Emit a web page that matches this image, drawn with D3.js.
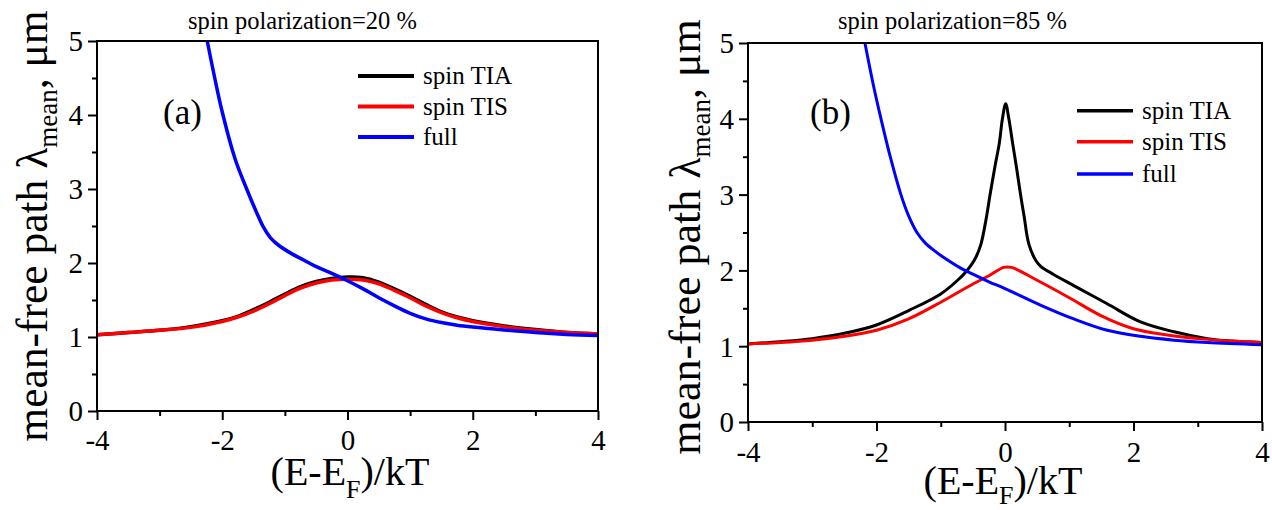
<!DOCTYPE html>
<html>
<head>
<meta charset="utf-8">
<script src="https://cdn.jsdelivr.net/npm/d3@7/dist/d3.min.js"></script>
<style>
  html, body { margin: 0; padding: 0; background: #fff; }
  svg { display: block; }
  svg text { font-family: "Liberation Serif", "Times New Roman", serif !important; fill: #000; }
</style>
</head>
<body>
<script>
// Mean-free path versus reduced energy (E-E_F)/kT, two spin polarizations.
const energyTicks = [-4, -2, 0, 2, 4];
const energyMinor = [-3, -1, 1, 3];
const lambdaTicks = [0, 1, 2, 3, 4, 5];
const lambdaMinor = [0.5, 1.5, 2.5, 3.5, 4.5];
const seriesNames = ["spin TIA", "spin TIS", "full"];
const seriesColors = ["#000000", "#ff0000", "#0000ff"];
const panelTitles = ["spin polarization=20 %", "spin polarization=85 %"];
const panelTags = ["(a)", "(b)"];

// polarization 20 %
const tiaA = [[-4,1.03],[-3.5,1.06],[-3,1.09],[-2.5,1.14],[-2,1.22],[-1.75,1.28],[-1.5,1.37],[-1.25,1.47],[-1,1.58],[-0.75,1.68],[-0.5,1.75],[-0.25,1.79],[0,1.81],[0.25,1.80],[0.5,1.74],[0.75,1.65],[1,1.55],[1.25,1.44],[1.5,1.34],[1.75,1.27],[2,1.22],[2.5,1.15],[3,1.10],[3.5,1.06],[4,1.04]];
const tisA = [[-4,1.03],[-3.5,1.06],[-3,1.09],[-2.5,1.13],[-2,1.21],[-1.75,1.27],[-1.5,1.35],[-1.25,1.45],[-1,1.56],[-0.75,1.66],[-0.5,1.73],[-0.25,1.77],[0,1.78],[0.25,1.77],[0.5,1.72],[0.75,1.63],[1,1.53],[1.25,1.42],[1.5,1.33],[1.75,1.26],[2,1.21],[2.5,1.14],[3,1.09],[3.5,1.06],[4,1.04]];
const fullA = [[-2.24,5.0],[-2.12,4.5],[-2.0,4.04],[-1.8,3.42],[-1.61,3.0],[-1.45,2.68],[-1.34,2.48],[-1.23,2.34],[-1.1,2.24],[-0.9,2.13],[-0.7,2.04],[-0.5,1.95],[-0.25,1.86],[0,1.76],[0.25,1.65],[0.5,1.53],[0.75,1.42],[1.0,1.32],[1.25,1.245],[1.5,1.195],[1.75,1.16],[2.0,1.135],[2.5,1.095],[3.0,1.06],[3.5,1.035],[4.0,1.02]];

// polarization 85 %
const tiaB = [[-4,1.03],[-3.5,1.06],[-3,1.10],[-2.5,1.17],[-2,1.28],[-1.5,1.47],[-1,1.69],[-0.75,1.86],[-0.6,1.99],[-0.48,2.13],[-0.38,2.33],[-0.3,2.65],[-0.23,3.01],[-0.15,3.4],[-0.09,3.67],[-0.04,4.0],[0.01,4.2],[0.06,4.0],[0.12,3.67],[0.18,3.35],[0.24,3.01],[0.3,2.7],[0.37,2.35],[0.48,2.13],[0.56,2.05],[0.75,1.95],[1.07,1.80],[1.59,1.56],[2.11,1.32],[2.63,1.19],[3.15,1.10],[3.5,1.07],[4,1.05]];
const tisB = [[-4,1.03],[-3.5,1.05],[-3,1.08],[-2.5,1.13],[-2,1.21],[-1.5,1.36],[-1,1.58],[-0.5,1.82],[-0.25,1.93],[-0.02,2.04],[0.1,2.04],[0.5,1.87],[1,1.64],[1.5,1.40],[2,1.23],[2.5,1.15],[3,1.10],[3.5,1.07],[4,1.05]];
const fullB = [[-2.18,5.0],[-2.05,4.45],[-1.93,4.0],[-1.78,3.48],[-1.62,3.0],[-1.5,2.72],[-1.37,2.5],[-1.25,2.37],[-1.1,2.26],[-0.9,2.14],[-0.69,2.03],[-0.5,1.95],[-0.25,1.85],[0,1.76],[0.56,1.54],[1.07,1.36],[1.59,1.21],[2.11,1.13],[2.63,1.08],[3.15,1.05],[4,1.02]];

const panels = [
  { left: 97, right: 598, top: 41, bottom: 411, series: [tiaA, tisA, fullA],
    titleX: 188, tagX: 163, legendX: 358, legendY: [76, 106.5, 137],
    xTitleX: 350, xTitleY: 485, subDy: 13, yTitleX: 47, yTitleY: 226, tickY: 39, yFont: 43.5,
    legendW: 4, curveW: 3.5 },
  { left: 748, right: 1262, top: 43, bottom: 422, series: [tiaB, tisB, fullB],
    titleX: 838, tagX: 810, legendX: 1077, legendY: [110.7, 141.7, 174],
    xTitleX: 1003, xTitleY: 494, subDy: 10, yTitleX: 700, yTitleY: 237, tickY: 40, yFont: 44,
    legendW: 3.5, curveW: 3 }
];

const tickFormat = d => String(d); // plain hyphen for negative values

const svg = d3.select("body").append("svg")
  .attr("width", 1272).attr("height", 510);

// strip the axis group's own font settings so the serif face applies
function plainAxis(a) {
  a.attr("font-family", null).attr("font-size", null);
  a.select(".domain").remove();
  a.selectAll("line").attr("stroke-width", 2);
}

panels.forEach((p, i) => {
  const x = d3.scaleLinear().domain([-4, 4]).range([p.left, p.right]);
  const y = d3.scaleLinear().domain([0, 5]).range([p.bottom, p.top]);
  const g = svg.append("g");

  const clipId = "plot-clip-" + i;
  svg.append("clipPath").attr("id", clipId).append("rect")
    .attr("x", p.left).attr("y", p.top)
    .attr("width", p.right - p.left).attr("height", p.bottom - p.top);

  // minor ticks
  g.append("g").attr("transform", `translate(0,${p.bottom})`)
    .call(d3.axisBottom(x).tickValues(energyMinor).tickSize(5).tickFormat(""))
    .call(plainAxis);
  g.append("g").attr("transform", `translate(${p.left},0)`)
    .call(d3.axisLeft(y).tickValues(lambdaMinor).tickSize(5).tickFormat(""))
    .call(plainAxis);

  // major ticks and labels
  g.append("g").attr("transform", `translate(0,${p.bottom})`)
    .call(d3.axisBottom(x).tickValues(energyTicks).tickSize(9).tickFormat(tickFormat))
    .call(plainAxis)
    .call(a => a.selectAll("text").attr("y", p.tickY).attr("dy", null)
      .style("font-size", "29px"));
  g.append("g").attr("transform", `translate(${p.left},0)`)
    .call(d3.axisLeft(y).tickValues(lambdaTicks).tickSize(9).tickFormat(tickFormat))
    .call(plainAxis)
    .call(a => a.selectAll("text").attr("x", -14).attr("dy", "0.34em")
      .style("font-size", "29px"));

  // curves
  const line = d3.line().x(d => x(d[0])).y(d => y(d[1])).curve(d3.curveCatmullRom.alpha(0.5));
  p.series.forEach((s, k) => {
    g.append("path").datum(s)
      .attr("clip-path", `url(#${clipId})`)
      .attr("fill", "none").attr("stroke", seriesColors[k])
      .attr("stroke-width", p.curveW).attr("stroke-linejoin", "round")
      .attr("d", line);
  });

  // frame
  g.append("rect").attr("x", p.left).attr("y", p.top)
    .attr("width", p.right - p.left).attr("height", p.bottom - p.top)
    .attr("fill", "none").attr("stroke", "#000").attr("stroke-width", 2);

  // legend
  seriesNames.forEach((name, k) => {
    const ly = p.legendY[k];
    g.append("line").attr("x1", p.legendX).attr("x2", p.legendX + 56)
      .attr("y1", ly).attr("y2", ly)
      .attr("stroke", seriesColors[k]).attr("stroke-width", p.legendW);
    g.append("text").attr("x", p.legendX + 65).attr("y", ly + 8)
      .style("font-size", "25px").text(name);
  });

  // panel tag
  g.append("text").attr("x", p.tagX).attr("y", 124)
    .style("font-size", "35px").text(panelTags[i]);

  // title
  g.append("text").attr("x", p.titleX).attr("y", 29)
    .style("font-size", "24.5px").text(panelTitles[i]);

  // x axis title
  const xt = g.append("text").attr("x", p.xTitleX).attr("y", p.xTitleY)
    .attr("text-anchor", "middle").style("font-size", "40px");
  xt.append("tspan").text("(E-E");
  xt.append("tspan").style("font-size", "26px").attr("dy", p.subDy).text("F");
  xt.append("tspan").attr("dy", -p.subDy).text(")/kT");

  // y axis title
  const yt = g.append("text")
    .attr("transform", `translate(${p.yTitleX},${p.yTitleY}) rotate(-90)`)
    .attr("text-anchor", "middle").style("font-size", p.yFont + "px");
  yt.append("tspan").text("mean-free path λ");
  yt.append("tspan").style("font-size", Math.round(p.yFont * 0.62) + "px").attr("dy", 10).text("mean");
  yt.append("tspan").attr("dy", -10).text(", μm");
});
</script>
</body>
</html>
